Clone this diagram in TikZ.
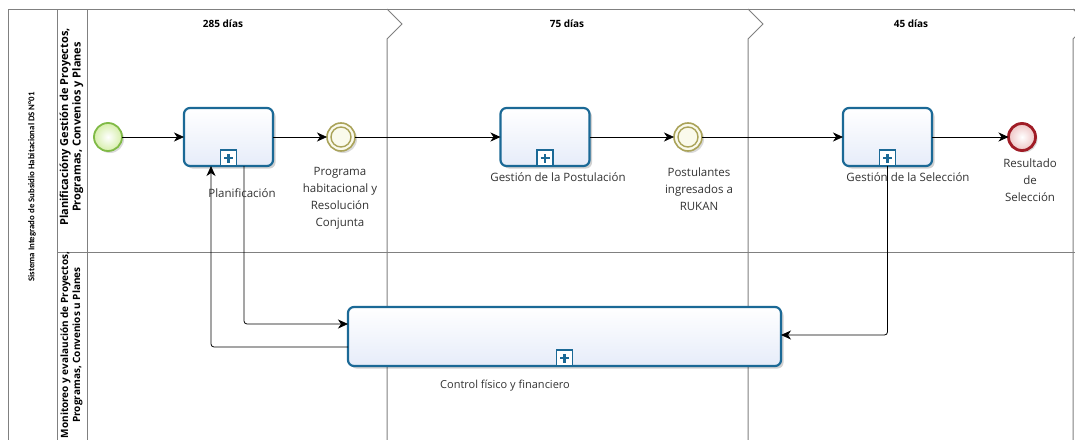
\documentclass[tikz,border=0pt]{standalone}
\usepackage{fontspec}
\setmainfont{Open Sans}
\newfontfamily\carlfont{Carlito}
\usetikzlibrary{arrows.meta,shadows,calc}
\definecolor{laneline}{RGB}{128,128,128}
\definecolor{taskblue}{RGB}{27,105,150}
\definecolor{taskfill}{RGB}{230,236,249}
\definecolor{startgreen}{RGB}{128,186,70}
\definecolor{startfill}{RGB}{214,238,170}
\definecolor{ievline}{RGB}{170,163,90}
\definecolor{ievfill}{RGB}{250,250,236}
\definecolor{endred}{RGB}{160,28,38}
\definecolor{endfill}{RGB}{238,196,196}
\definecolor{labelgray}{RGB}{51,51,51}
\tikzset{
  poolline/.style={draw=laneline, line width=1pt},
  taskbox/.style={draw=taskblue, line width=2.2pt, rounded corners=6pt, outer sep=0pt,
    top color=white, bottom color=taskfill, minimum width=89pt, minimum height=58pt,
    drop shadow={shadow xshift=2.5pt, shadow yshift=-2.5pt, opacity=.18, fill=black}},
  startev/.style={circle, draw=startgreen, line width=1.8pt, inner color=white, outer color=startfill,
    minimum size=28pt, inner sep=0pt, outer sep=0pt,
    drop shadow={shadow xshift=2pt, shadow yshift=-2pt, opacity=.15, fill=black}},
  midev/.style={circle, draw=ievline, line width=1.6pt, fill=ievfill,
    minimum size=28pt, inner sep=0pt, outer sep=0pt,
    drop shadow={shadow xshift=2pt, shadow yshift=-2pt, opacity=.15, fill=black}},
  midinner/.style={draw=ievline, line width=1.4pt},
  endev/.style={circle, draw=endred, line width=2.8pt, inner color=white, outer color=endfill,
    minimum size=27pt, inner sep=0pt, outer sep=0pt,
    drop shadow={shadow xshift=2pt, shadow yshift=-2pt, opacity=.15, fill=black}},
  flow/.style={draw=black, line width=0.8pt, rounded corners=3pt,
    -{Stealth[length=10pt,width=9pt,inset=3pt]}},
  lbl/.style={align=center, text=labelgray, font=\fontsize{11.5}{17}\selectfont, inner sep=0pt},
  phaselbl/.style={font=\bfseries\fontsize{10}{12}\selectfont, inner sep=0pt},
  lanelbl/.style={rotate=90, align=center, font=\bfseries\fontsize{11}{12.5}\selectfont, inner sep=0pt},
  poollbl/.style={rotate=90, font=\carlfont\bfseries\fontsize{8.8}{11}\selectfont, inner sep=0pt}
}
\newcommand\submark[1]{%
  \draw[taskblue, line width=1.2pt, fill=white] ($(#1.south)+(-8,0)$) rectangle ($(#1.south)+(8,-16)$);
  \draw[taskblue, line width=2.3pt] ($(#1.south)+(-4.5,-8)$) -- ($(#1.south)+(4.5,-8)$)
    ($(#1.south)+(0,-3.5)$) -- ($(#1.south)+(0,-12.5)$);}
\begin{document}
\begin{tikzpicture}[x=1pt,y=-1pt]
\useasboundingbox (0,0) rectangle (1075,439);
\fill[white] (0,0) rectangle (1075,439);
% pool and lanes
\draw[poolline] (8,450) -- (8,9) -- (1075,9);
\draw[poolline] (57,9) -- (57,450);
\draw[poolline] (87,9) -- (87,450);
\draw[poolline] (57,252) -- (1075,252);
\foreach \px in {387,748,1073}{
  \draw[poolline] (\px,9) -- (\px+15,24) -- (\px,39) -- (\px,450);
}
% labels of pool, lanes, phases
\node[poollbl] (pooltxt) at (32,187) {Sistema Integrado de Subsidio Habitacional DS N°01};
\node[lanelbl] (lane1txt) at (71.5,127) {Planificacióny Gestión de Proyectos,\\Programas, Convenios y Planes};
\node[lanelbl, font=\bfseries\fontsize{10}{12}\selectfont] (lane2txt) at (71.5,345) {Monitoreo y evalaución de Proyectos,\\Programas, Convenios u Planes};
\node[phaselbl] (ph1) at (223,24) {285 días};
\node[phaselbl] (ph2) at (567,24) {75 días};
\node[phaselbl] (ph3) at (911,24) {45 días};
% flow objects
\node[startev] (start) at (108,137) {};
\node[taskbox] (t1) at (228.5,137) {};
\node[midev] (e1) at (341,137) {};
\draw[midinner] (e1.center) circle[radius=10pt];
\node[taskbox] (t2) at (545,137) {};
\node[midev] (e2) at (688,137) {};
\draw[midinner] (e2.center) circle[radius=10pt];
\node[taskbox] (t3) at (887.5,137) {};
\node[endev] (endn) at (1022,137) {};
\node[taskbox, minimum width=433pt, minimum height=59pt] (ctrl) at (564.5,336.5) {};
\submark{t1}
\submark{t2}
\submark{t3}
\submark{ctrl}
% connectors
\draw[flow] (start) -- (t1);
\draw[flow] (t1) -- (e1);
\draw[flow] (e1) -- (t2);
\draw[flow] (t2) -- (e2);
\draw[flow] (e2) -- (t3);
\draw[flow] (t3) -- (endn);
\coordinate (p1) at (244,324);
\coordinate (p2) at (211,347);
\coordinate (p3) at (887.5,335);
\draw[flow] (t1.south -| p1) -- (p1) -- (ctrl.west |- p1);
\draw[flow] (ctrl.west |- p2) -- (p2) -- (t1.south -| p2);
\draw[flow] (t3.south) -- (p3) -- (ctrl.east |- p3);
% text labels
\node[lbl] (l1) at (242,193) {Planificación};
\node[lbl] (l2) at (340,198) {Programa\\habitacional y\\Resolución\\Conjunta};
\node[lbl] (l3) at (558,177) {Gestión de la Postulación};
\node[lbl] (l4) at (699,189) {Postulantes\\ingresados a\\RUKAN};
\node[lbl] (l5) at (908,177) {Gestión de la Selección};
\node[lbl] (l6) at (1030,180) {Resultado\\de\\Selección};
\node[lbl, font=\fontsize{11}{15}\selectfont] (l7) at (505,386) {Control físico y financiero};
\end{tikzpicture}
\end{document}
